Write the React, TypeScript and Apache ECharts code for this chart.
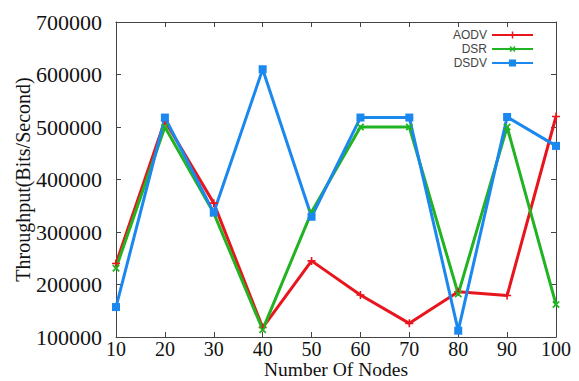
import React, { useEffect, useRef } from "react";
import * as echarts from "echarts";

const nodes = [10, 20, 30, 40, 50, 60, 70, 80, 90, 100];
const aodv = [240000, 512000, 355000, 118000, 245000, 180000, 126000, 186000, 179000, 520000];
const dsr = [231000, 500000, 336000, 114000, 338000, 500000, 500000, 182000, 500000, 162000];
const dsdv = [157000, 518000, 337000, 610000, 329000, 518000, 518000, 112000, 519000, 464000];
const seriesNames = ["AODV", "DSR", "DSDV"];
const xTitle = "Number Of Nodes";
const yTitle = "Throughput(Bits/Second)";

const PLUS = "path://M4,0h2v4h4v2h-4v4h-2v-4h-4v-2h4z";

export default function App() {
  const ref = useRef<HTMLDivElement>(null);
  useEffect(() => {
    if (!ref.current) return;
    const chart = echarts.init(ref.current, null, { renderer: "svg" });
    const serif = "'Liberation Serif', 'Times New Roman', serif";
    const axisLine = { show: true, lineStyle: { color: "#444", width: 1 } };
    const mk = (d: number[]) => d.map((v, i) => [nodes[i], v]);
    chart.setOption({
      animation: false,
      backgroundColor: "#fff",
      grid: { left: 116, right: 23, top: 22, bottom: 44, outerBoundsMode: "none", containLabel: false },
      legend: {
        orient: "vertical",
        right: 40,
        top: 24,
        align: "right",
        itemWidth: 41,
        itemHeight: 9,
        itemGap: 2,
        textStyle: {
          fontFamily: "'Liberation Sans', Arial, sans-serif",
          fontSize: 12,
          lineHeight: 12,
          color: "#444",
        },
        data: seriesNames,
      },
      xAxis: [
        {
          type: "value",
          min: 10,
          max: 100,
          interval: 10,
          position: "bottom",
          name: xTitle,
          nameLocation: "middle",
          nameGap: 23,
          nameMoveOverlap: false,
          nameTextStyle: { fontFamily: serif, fontSize: 19.5, lineHeight: 18, color: "#111" },
          axisLine,
          axisTick: { show: true, inside: true, length: 5, lineStyle: { color: "#444" } },
          axisLabel: { fontFamily: serif, fontSize: 20, lineHeight: 18, color: "#111", margin: 3 },
          splitLine: { show: false },
        },
        {
          type: "value",
          min: 10,
          max: 100,
          interval: 10,
          position: "top",
          axisLine,
          axisTick: { show: true, inside: true, length: 5, lineStyle: { color: "#444" } },
          axisLabel: { show: false },
          splitLine: { show: false },
        },
      ],
      yAxis: [
        {
          type: "value",
          min: 100000,
          max: 700000,
          interval: 100000,
          position: "left",
          name: yTitle,
          nameLocation: "middle",
          nameGap: 83,
          nameMoveOverlap: false,
          nameTextStyle: { fontFamily: serif, fontSize: 20, color: "#111" },
          axisLine,
          axisTick: { show: true, inside: true, length: 5, lineStyle: { color: "#444" } },
          axisLabel: {
            fontFamily: serif,
            fontSize: 22,
            color: "#111",
            margin: 14,
            formatter: (v: number) => String(v),
          },
          splitLine: { show: false },
        },
        {
          type: "value",
          min: 100000,
          max: 700000,
          interval: 100000,
          position: "right",
          axisLine,
          axisTick: { show: true, inside: true, length: 5, lineStyle: { color: "#444" } },
          axisLabel: { show: false },
          splitLine: { show: false },
        },
      ],
      series: [
        {
          name: seriesNames[0],
          type: "line",
          data: mk(aodv),
          color: "#e8161c",
          lineStyle: { width: 3 },
          symbol: PLUS,
          symbolSize: 8,
          itemStyle: { color: "#e8161c" },
        },
        {
          name: seriesNames[1],
          type: "line",
          data: mk(dsr),
          color: "#22b322",
          lineStyle: { width: 3 },
          symbol: PLUS,
          symbolRotate: 45,
          symbolSize: 9,
          itemStyle: { color: "#22b322" },
        },
        {
          name: seriesNames[2],
          type: "line",
          data: mk(dsdv),
          color: "#1a88ee",
          lineStyle: { width: 3 },
          symbol: "rect",
          symbolSize: 8,
          itemStyle: { color: "#1a88ee" },
        },
      ],
    });
    return () => chart.dispose();
  }, []);
  return <div ref={ref} style={{ width: 579, height: 381, position: "absolute", left: 0, top: 0 }} />;
}
